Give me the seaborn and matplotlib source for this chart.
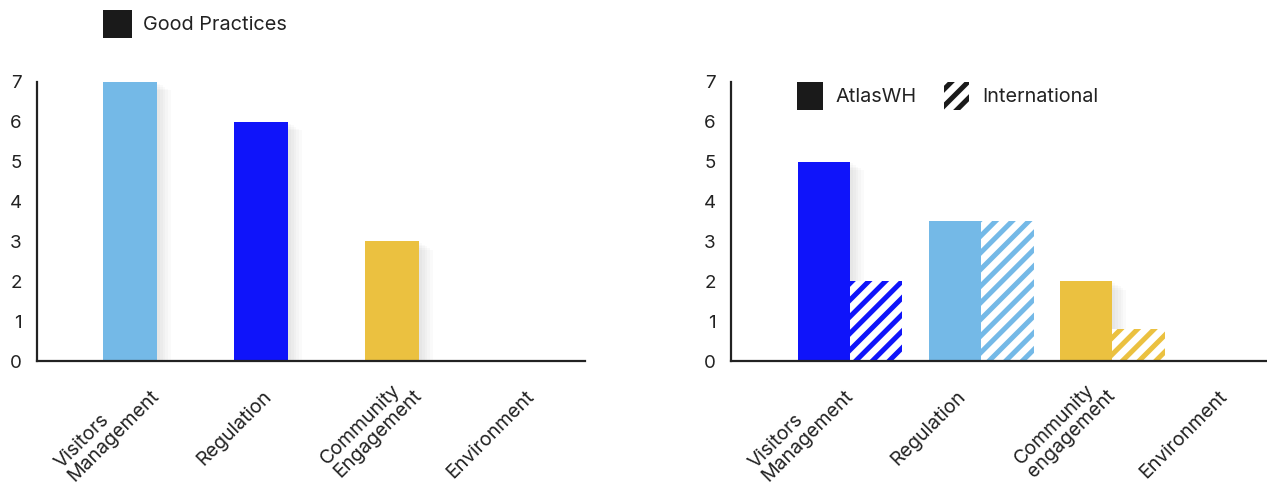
import matplotlib
matplotlib.use("Agg")
import matplotlib.pyplot as plt
import matplotlib.transforms as mtransforms
import matplotlib.patheffects as pe
from matplotlib.patches import Patch
import seaborn as sns
import pandas as pd

# ---------------- data ----------------
categories_left = ["Visitors\nManagement", "Regulation", "Community\nEngagement", "Environment"]
good_practices = [7, 6, 3, 0]

categories_right = ["Visitors\nManagement", "Regulation", "Community\nengagement", "Environment"]
atlaswh = [5, 3.5, 2, 0]
international = [2, 3.5, 0.8, 0]

y_ticks = [0, 1, 2, 3, 4, 5, 6, 7]

left_colors = ["#74B9E7", "#0F14FA", "#EBC140", "#9B9B9B"]
right_colors = ["#0F14FA", "#74B9E7", "#EBC140", "#9B9B9B"]

# ---------------- style ----------------
sns.set_theme(style="white")
plt.rcParams["font.family"] = ["Inter", "DejaVu Sans"]
plt.rcParams["hatch.linewidth"] = 3.6
TEXT = "#222222"

shadow = [pe.SimplePatchShadow(offset=(o, -o * 0.6), shadow_rgbFace="black", alpha=0.018)
          for o in (10, 8, 6, 4, 2)] + [pe.Normal()]

fig = plt.figure(figsize=(12.67, 4.90), dpi=100)
axL = fig.add_axes([37 / 1267, 1 - 361 / 490, 548 / 1267, 279 / 490])
axR = fig.add_axes([731 / 1267, 1 - 361 / 490, 536 / 1267, 279 / 490])

# left chart
df_left = pd.DataFrame({"category": categories_left, "value": good_practices})
sns.barplot(data=df_left, x="category", y="value", hue="category", palette=left_colors,
            width=0.41, saturation=1, legend=False, ax=axL)
for bar in axL.patches:
    bar.set_edgecolor("none")
    bar.set_path_effects(shadow)

# right chart
df_right = pd.DataFrame({
    "category": categories_right * 2,
    "value": atlaswh + international,
    "series": ["AtlasWH"] * len(atlaswh) + ["International"] * len(international),
})
sns.barplot(data=df_right, x="category", y="value", hue="series",
            hue_order=["AtlasWH", "International"], width=0.8, saturation=1,
            legend=False, ax=axR)
for i, bar in enumerate(axR.containers[0]):
    bar.set_facecolor(right_colors[i])
    bar.set_edgecolor("none")
    bar.set_path_effects(shadow)
for i, bar in enumerate(axR.containers[1]):
    bar.set_facecolor("white")
    bar.set_edgecolor(right_colors[i])
    bar.set_linewidth(0)
    bar.set_hatch("//")

# ticks
axR.set_xticks([i - 0.2 for i in range(len(categories_right))], labels=categories_right)
axL.set_xticks(range(len(categories_left)), labels=categories_left)

for ax, xl in ((axL, (-0.71, 3.47)), (axR, (-0.908, 3.18))):
    ax.set_xlim(*xl)
    ax.set_ylim(0, 7)
    ax.set_yticks(y_ticks)
    ax.set_xlabel("")
    ax.set_ylabel("")
    for s in ("top", "right"):
        ax.spines[s].set_visible(False)
    for s in ("left", "bottom"):
        ax.spines[s].set_color(TEXT)
        ax.spines[s].set_linewidth(1.6)
        ax.spines[s].set_zorder(5)
    ax.tick_params(axis="y", direction="in", length=10, width=1.6, color=TEXT,
                   labelsize=13.5, labelcolor=TEXT, pad=11)
    ax.tick_params(axis="x", length=0, labelsize=14, labelcolor=TEXT, pad=19)
    yt = ax.yaxis.get_major_ticks()
    yt[0].tick1line.set_visible(False)
    yt[-1].tick1line.set_visible(False)
    for lab in ax.get_xticklabels():
        lab.set_rotation(45)
        lab.set_ha("right")
        lab.set_va("top")
        lab.set_multialignment("left")
        lab.set_linespacing(1.05)
        two = "\n" in lab.get_text()
        dx = 33 if two else 14
        dy = 14 if two else 0
        lab.set_transform(lab.get_transform() +
                          mtransforms.ScaledTranslation(dx / 100, dy / 100, fig.dpi_scale_trans))

# legends
h_left = [Patch(facecolor="#1a1a1a", edgecolor="none", label="Good Practices")]
fig.legend(handles=h_left, loc="center left", bbox_to_anchor=(103 / 1267, 1 - 24 / 490),
           frameon=False, fontsize=14.3, handlelength=1.45, handleheight=1.8,
           handletextpad=0.55, borderpad=0, borderaxespad=0, labelcolor=TEXT)

h_right = [Patch(facecolor="#1a1a1a", edgecolor="none", label="AtlasWH"),
           Patch(facecolor="white", edgecolor="#1a1a1a", linewidth=0, hatch="//", label="International")]
fig.legend(handles=h_right, loc="center left", bbox_to_anchor=(797 / 1267, 1 - 96 / 490),
           frameon=False, fontsize=14.3, ncol=2, handlelength=1.3, handleheight=1.8,
           handletextpad=0.65, columnspacing=1.35, borderpad=0, borderaxespad=0,
           labelcolor=TEXT)

fig.savefig("out.png", dpi=100, facecolor="white")
